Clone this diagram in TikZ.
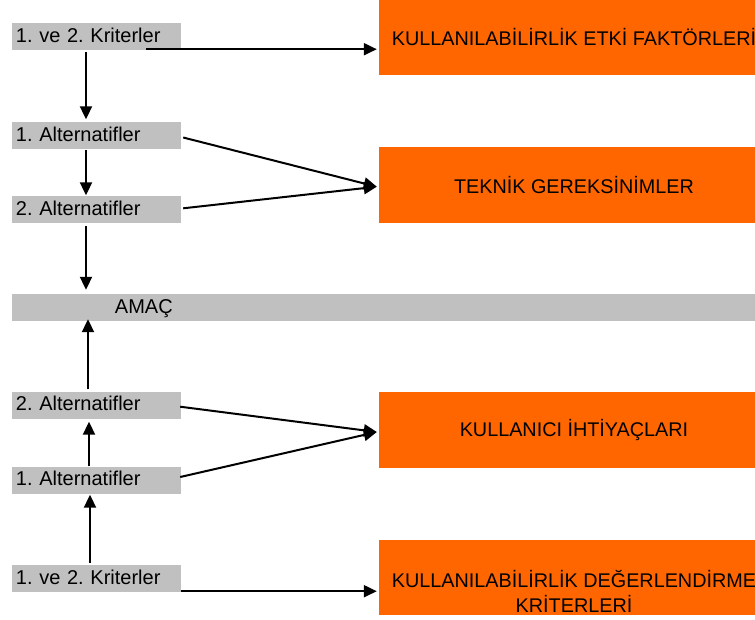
\documentclass[tikz,border=0pt]{standalone}
\usepackage{fontspec}
\setmainfont{Liberation Sans}
\usetikzlibrary{arrows.meta,calc}
\definecolor{boxgray}{HTML}{C0C0C0}
\definecolor{boxorange}{HTML}{FF6600}
\frenchspacing
\begin{document}
\begin{tikzpicture}[x=1pt,y=-1pt,
  graybox/.style={fill=boxgray, inner xsep=4pt, inner ysep=0pt, text width=161pt,
    align=left, minimum height=27pt, text height=13pt, text depth=1.5pt,
    font=\fontsize{20}{23}\selectfont},
  orangebox/.style={fill=boxorange, minimum width=390pt, inner sep=0pt,
    align=center, font=\fontsize{19.8}{25}\selectfont},
  arr/.style={line width=2pt, -{Triangle[length=13pt,width=12pt]}}]
\useasboundingbox (0,0) rectangle (755,619);
\clip (0,0) rectangle (755,619);
\fill[white] (0,0) rectangle (755,619);

% left column
\node[graybox] (k1) at (96.5,36.5) {1. ve 2. Kriterler};
\node[graybox] (a1) at (96.5,135.5) {1. Alternatifler};
\node[graybox] (a2) at (96.5,209.5) {2. Alternatifler};
\node[graybox, text width=750pt] (goal) at (391,307.5) {\hspace*{99pt}AMAÇ};
\node[graybox] (b2) at (96.5,405) {2. Alternatifler};
\node[graybox] (b1) at (96.5,480) {1. Alternatifler};
\node[graybox] (k2) at (96.5,578.5) {1. ve 2. Kriterler};

% right column
\node[orangebox, minimum height=75pt] (f1) at (574,37.5) {KULLANILABİLİRLİK ETKİ FAKTÖRLERİ};
\node[orangebox, minimum height=76pt] (f2) at (574,185) {TEKNİK GEREKSİNİMLER};
\node[orangebox, minimum height=76pt] (f3) at (574,430) {KULLANICI İHTİYAÇLARI};
\node[orangebox, minimum height=75pt] (f4) at (574,577.5) {};
\node[align=center, inner sep=0pt, font=\fontsize{19.8}{25}\selectfont] (f4t) at (574,591)
  {KULLANILABİLİRLİK DEĞERLENDİRME\\KRİTERLERİ};

% upper connectors
\coordinate (k1out) at ([xshift=49.5pt,yshift=1pt]k1.south);
\draw[arr, shorten >=2pt] (k1out) -- (k1out -| f1.west);
\draw[arr] ([xshift=-10.5pt,yshift=-2pt]k1.south) -- ([xshift=-10.5pt,yshift=2.5pt]a1.north);
\draw[arr] ([xshift=-10.5pt,yshift=-1pt]a1.south) -- ([xshift=-10.5pt,yshift=0.5pt]a2.north);
\coordinate (a2down) at ([xshift=-10.5pt,yshift=-3pt]a2.south);
\draw[arr, shorten >=4pt] (a2down) -- (a2down |- goal.north);
\draw[arr] ([xshift=2pt,yshift=-2pt]a1.east) -- ([xshift=-2pt,yshift=-1.7pt]f2.west);
\draw[arr] ([xshift=2pt,yshift=1.2pt]a2.east) -- ([xshift=-2pt,yshift=-1.7pt]f2.west);

% lower connectors
\coordinate (b2up) at ([xshift=-8.5pt,yshift=2pt]b2.north);
\draw[arr, shorten >=-2pt] (b2up) -- (b2up |- goal.south);
\draw[arr] ([xshift=-7.5pt]b1.north) -- ([xshift=-7.5pt,yshift=-3pt]b2.south);
\draw[arr] ([xshift=-6.5pt,yshift=2pt]k2.north) -- ([xshift=-6.5pt,yshift=-1pt]b1.south);
\draw[arr] ([xshift=-1pt,yshift=-1.7pt]b2.east) -- ([xshift=-2pt,yshift=-2pt]f3.west);
\draw[arr] ([xshift=-1pt,yshift=3pt]b1.east) -- ([xshift=-2pt,yshift=-2pt]f3.west);
\coordinate (k2out) at ([yshift=1pt]k2.south east);
\draw[arr, shorten >=2pt] (k2out) -- (k2out -| f4.west);
\end{tikzpicture}
\end{document}
